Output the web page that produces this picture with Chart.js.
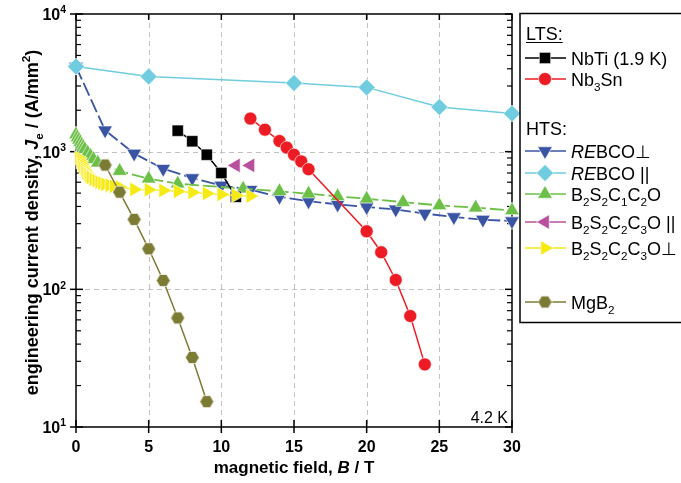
<!DOCTYPE html>
<html>
<head>
<meta charset="utf-8">
<script src="https://cdn.jsdelivr.net/npm/chart.js@4.4.1/dist/chart.umd.min.js"></script>
<style>
  body { margin: 0; background: #fff; }
  #wrap { width: 681px; height: 483px; position: relative; }
</style>
</head>
<body>
<div id="wrap"><canvas id="chart"></canvas></div>
<script>
// field B (T) and engineering current density Je (A/mm2)
var nbtiB = [7, 8, 9, 10, 11];
var nbtiJ = [1420, 1190, 950, 700, 470];

var nb3snB = [12, 13, 14, 14.5, 15, 15.5, 16, 20, 21, 22, 23, 24];
var nb3snJ = [1740, 1445, 1195, 1070, 950, 850, 745, 264, 186, 117, 64, 28.5];

var rebcoPerpB = [0, 2, 4, 6, 8, 10, 12, 14, 16, 18, 20, 22, 24, 26, 28, 30];
var rebcoPerpJ = [4150, 1430, 970, 752, 643, 569, 529, 470, 437, 414, 396, 381, 355, 335, 321, 313];

var rebcoParB = [0, 5, 15, 20, 25, 30];
var rebcoParJ = [4150, 3510, 3150, 2930, 2110, 1890];

var b2212B = [0, 0.1, 0.2, 0.3, 0.4, 0.5, 0.6, 0.8, 1.0, 1.2, 1.5, 3, 5, 7, 11.5, 14, 16, 18, 20, 22.5, 25, 27.5, 30];
var b2212J = [1330, 1270, 1220, 1170, 1120, 1080, 1040, 980, 930, 880, 830, 723, 636, 585, 538, 515, 495, 474, 455, 430, 407, 392, 374];

var b2223ParB = [11, 12];
var b2223ParJ = [795, 795];

var b2223PerpB = [0.2, 0.3, 0.4, 0.5, 0.6, 0.7, 0.8, 0.9, 1.0, 1.2, 1.4, 1.6, 1.8, 2.0, 2.3, 2.6, 3, 4, 5, 6, 7, 8, 9, 10, 11, 12];
var b2223PerpJ = [900, 850, 805, 765, 735, 705, 685, 665, 650, 630, 615, 600, 590, 580, 570, 560, 553, 532, 529, 523, 515, 506, 497, 489, 481, 476];

var mgb2B = [2, 3, 4, 5, 6, 7, 8, 9];
var mgb2J = [800, 508, 322, 197, 116, 62, 32, 15.3];

var xTicks = [0, 5, 10, 15, 20, 25, 30];
var yTicks = [10, 100, 1000, 10000];

var FONT = '"Liberation Sans", Arial, Helvetica, sans-serif';

function pts(bs, js) {
  return bs.map(function (b, i) { return { x: b, y: js[i] }; });
}

// hexagon marker for MgB2
function makeHex(color, size) {
  var c = document.createElement('canvas');
  c.width = size; c.height = size;
  var g = c.getContext('2d');
  var r = size / 2 - 0.6;
  g.beginPath();
  for (var k = 0; k < 6; k++) {
    var ang = k * Math.PI / 3;
    g.lineTo(size / 2 + r * Math.cos(ang), size / 2 + r * Math.sin(ang));
  }
  g.closePath();
  g.fillStyle = color;
  g.fill();
  g.strokeStyle = '#fff';
  g.lineWidth = 0.7;
  g.stroke();
  return c;
}
var hex = makeHex('#7c7b33', 15);

function ds(label, bs, js, color, style, radius, rot, extra) {
  var d = {
    label: label,
    data: pts(bs, js),
    borderColor: color,
    backgroundColor: color,
    pointBackgroundColor: color,
    pointBorderColor: '#fff',
    pointBorderWidth: 0.6,
    pointStyle: style,
    pointRadius: radius,
    pointHoverRadius: radius,
    pointRotation: rot,
    borderWidth: 1.5,
    clip: false,
    tension: 0
  };
  for (var k in extra) d[k] = extra[k];
  return d;
}

var datasets = [
  ds('NbTi (1.9 K)', nbtiB, nbtiJ, '#000000', 'rect', 8, 0, { order: 3 }),
  ds('Nb3Sn', nb3snB, nb3snJ, '#ed1c24', 'circle', 6.5, 0, { order: 5 }),
  ds('REBCO perp', rebcoPerpB, rebcoPerpJ, '#3a54a4', 'triangle', 8.5, 180, { order: 7, borderDash: [14, 4], borderWidth: 1.8 }),
  ds('REBCO par', rebcoParB, rebcoParJ, '#6fcddf', 'rectRot', 8.5, 0, { order: 1 }),
  ds('B2S2C1C2O', b2212B, b2212J, '#6cbf47', 'triangle', 8.5, 0, { order: 6, borderDash: [14, 4], borderWidth: 1.8 }),
  ds('B2S2C2C3O par', b2223ParB, b2223ParJ, '#b8509e', 'triangle', 8.5, 270, { order: 4, showLine: false }),
  ds('B2S2C2C3O perp', b2223PerpB, b2223PerpJ, '#f5ea14', 'triangle', 8.5, 90, { order: 2 }),
  ds('MgB2', mgb2B, mgb2J, '#7c7b33', hex, 7.5, 0, { order: 0 })
];

// legend rows: text segments, dataset index (-1 = header), row centre y
var legendRows = [
  { segs: [['LTS:']], idx: -1, y: 33 },
  { segs: [['NbTi (1.9 K)']], idx: 0, y: 58 },
  { segs: [['Nb'], ['3', 'sub'], ['Sn']], idx: 1, y: 79 },
  { segs: [['HTS:']], idx: -1, y: 128 },
  { segs: [['RE', 'i'], ['BCO\u22A5']], idx: 2, y: 151 },
  { segs: [['RE', 'i'], ['BCO ||']], idx: 3, y: 173 },
  { segs: [['B'], ['2', 'sub'], ['S'], ['2', 'sub'], ['C'], ['1', 'sub'], ['C'], ['2', 'sub'], ['O']], idx: 4, y: 194 },
  { segs: [['B'], ['2', 'sub'], ['S'], ['2', 'sub'], ['C'], ['2', 'sub'], ['C'], ['3', 'sub'], ['O ||']], idx: 5, y: 222 },
  { segs: [['B'], ['2', 'sub'], ['S'], ['2', 'sub'], ['C'], ['2', 'sub'], ['C'], ['3', 'sub'], ['O\u22A5']], idx: 6, y: 248 },
  { segs: [['MgB'], ['2', 'sub']], idx: 7, y: 302 }
];

function segFont(seg, size, weight) {
  var s = (seg[1] === 'sub' || seg[1] === 'sup') ? size * 0.65 : size;
  var it = seg[1] === 'i' ? 'italic ' : '';
  return it + weight + ' ' + s + 'px ' + FONT;
}
function richWidth(ctx, segs, size, weight) {
  var w = 0;
  segs.forEach(function (seg) {
    ctx.font = segFont(seg, size, weight);
    w += ctx.measureText(seg[0]).width;
  });
  return w;
}
function drawRich(ctx, segs, x, y, size, weight, align) {
  var w = richWidth(ctx, segs, size, weight);
  if (align === 'center') x -= w / 2;
  else if (align === 'right') x -= w;
  ctx.textAlign = 'left';
  ctx.textBaseline = 'alphabetic';
  segs.forEach(function (seg) {
    ctx.font = segFont(seg, size, weight);
    var dy = seg[1] === 'sub' ? size * 0.28 : (seg[1] === 'sup' ? -size * 0.42 : 0);
    ctx.fillText(seg[0], x, y + dy);
    x += ctx.measureText(seg[0]).width;
  });
  return w;
}
function seg(ctx, x1, y1, x2, y2) {
  ctx.beginPath();
  ctx.moveTo(x1, y1);
  ctx.lineTo(x2, y2);
  ctx.stroke();
}

var framePlugin = {
  id: 'frame',
  beforeDatasetsDraw: function (chart) {
    var ctx = chart.ctx, a = chart.chartArea, sx = chart.scales.x, sy = chart.scales.y;
    ctx.save();
    // dashed grid
    ctx.strokeStyle = '#c2c2c2';
    ctx.lineWidth = 1;
    ctx.setLineDash([5, 4]);
    xTicks.slice(1, -1).forEach(function (v) {
      var p = Math.round(sx.getPixelForValue(v)) + 0.5;
      seg(ctx, p, a.top, p, a.bottom);
    });
    yTicks.slice(1, -1).forEach(function (v) {
      var p = Math.round(sy.getPixelForValue(v)) + 0.5;
      seg(ctx, a.left, p, a.right, p);
    });
    ctx.setLineDash([]);
    // box + ticks
    ctx.strokeStyle = '#000';
    ctx.lineWidth = 1.5;
    ctx.strokeRect(a.left, a.top, a.right - a.left, a.bottom - a.top);
    xTicks.forEach(function (v) {
      var p = sx.getPixelForValue(v);
      seg(ctx, p, a.bottom - 7, p, a.bottom + 6);
      seg(ctx, p, a.top, p, a.top + 6);
    });
    yTicks.forEach(function (v) {
      var p = sy.getPixelForValue(v);
      seg(ctx, a.left - 6, p, a.left + 7, p);
      seg(ctx, a.right - 7, p, a.right, p);
    });
    ctx.lineWidth = 1.2;
    yTicks.slice(0, -1).forEach(function (d) {
      for (var m = 2; m <= 9; m++) {
        var p = sy.getPixelForValue(d * m);
        seg(ctx, a.left, p, a.left + 5, p);
        seg(ctx, a.right - 5, p, a.right, p);
      }
    });
    ctx.restore();
  },
  afterDraw: function (chart) {
    var ctx = chart.ctx, a = chart.chartArea, sx = chart.scales.x, sy = chart.scales.y;
    ctx.save();
    ctx.fillStyle = '#000';
    // tick labels
    ctx.font = 'bold 16px ' + FONT;
    ctx.textAlign = 'center';
    ctx.textBaseline = 'alphabetic';
    xTicks.forEach(function (v) {
      ctx.fillText(String(v), sx.getPixelForValue(v), a.bottom + 25);
    });
    yTicks.forEach(function (v) {
      var e = Math.round(Math.log10(v));
      drawRich(ctx, [['10'], [String(e), 'sup']], a.left - 10, sy.getPixelForValue(v) + 6, 16, 'bold', 'right');
    });
    // axis titles
    drawRich(ctx, [['magnetic field, '], ['B', 'i'], [' / T']], (a.left + a.right) / 2, 473, 17, 'bold', 'center');
    ctx.save();
    ctx.translate(38, (a.top + a.bottom) / 2 + 2);
    ctx.rotate(-Math.PI / 2);
    drawRich(ctx, [['engineering current density, '], ['J', 'i'], ['e', 'sub'], [' / (A/mm'], ['2', 'sup'], [')']], 0, 0, 18, 'bold', 'center');
    ctx.restore();
    // temperature note
    ctx.font = '16px ' + FONT;
    ctx.textAlign = 'right';
    ctx.fillText('4.2 K', a.right - 4, a.bottom - 4);

    // legend box
    ctx.strokeStyle = '#000';
    ctx.lineWidth = 1.5;
    ctx.strokeRect(520, 13.5, 200, 309);
    legendRows.forEach(function (row) {
      if (row.idx < 0) {
        var w = drawRich(ctx, row.segs, 526, row.y + 6.5, 18, 'normal', 'left');
        ctx.lineWidth = 1.2;
        seg(ctx, 526, row.y + 9.5, 526 + w, row.y + 9.5);
        return;
      }
      var d = chart.data.datasets[row.idx];
      ctx.strokeStyle = d.borderColor;
      ctx.lineWidth = 1.5;
      seg(ctx, 525, row.y, 566, row.y);
      ctx.fillStyle = d.pointBackgroundColor;
      ctx.strokeStyle = '#fff';
      ctx.lineWidth = 0.6;
      Chart.helpers.drawPoint(ctx, { pointStyle: d.pointStyle, radius: d.pointRadius, rotation: d.pointRotation, borderWidth: 0.6 }, 545, row.y);
      ctx.fillStyle = '#000';
      drawRich(ctx, row.segs, 571, row.y + 6.5, 18, 'normal', 'left');
    });
    ctx.restore();
  }
};

new Chart(document.getElementById('chart').getContext('2d'), {
  type: 'line',
  data: { datasets: datasets },
  options: {
    responsive: true,
    maintainAspectRatio: false,
    animation: false,
    devicePixelRatio: 1,
    layout: { autoPadding: false, padding: { left: 76, top: 14, right: 169, bottom: 56 } },
    plugins: { legend: { display: false }, tooltip: { enabled: false } },
    scales: {
      x: { type: 'linear', min: 0, max: 30, display: false },
      y: { type: 'logarithmic', min: 10, max: 10000, display: false }
    }
  },
  plugins: [framePlugin]
});
</script>
</body>
</html>
